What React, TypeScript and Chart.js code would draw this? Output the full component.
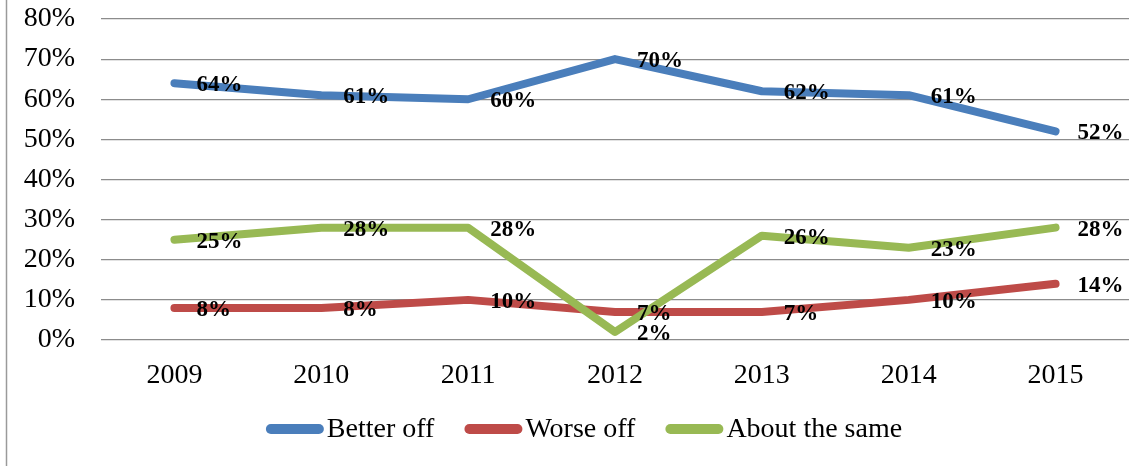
import React, { useEffect, useRef } from "react";
import { Chart, registerables } from "chart.js";

Chart.register(...registerables);

const years = ["2009", "2010", "2011", "2012", "2013", "2014", "2015"];
const betterOff = [64, 61, 60, 70, 62, 61, 52];
const worseOff = [8, 8, 10, 7, 7, 10, 14];
const aboutSame = [25, 28, 28, 2, 26, 23, 28];
const seriesNames = ["Better off", "Worse off", "About the same"];
const seriesColors = ["#4A7EBB", "#BE4B48", "#98B954"];

const FONT = "'Liberation Serif', 'Times New Roman', serif";

const labelPlugin = {
  id: "valueLabels",
  afterDatasetsDraw(chart: any) {
    const ctx = chart.ctx;
    ctx.save();
    ctx.font = `bold 23px ${FONT}`;
    ctx.fillStyle = "#000";
    ctx.textAlign = "left";
    ctx.textBaseline = "middle";
    chart.data.datasets.forEach((ds: any, i: number) => {
      const meta = chart.getDatasetMeta(i);
      meta.data.forEach((el: any, j: number) => {
        ctx.fillText(`${ds.data[j]}%`, el.x + 22, el.y + 2);
      });
    });
    ctx.restore();
  },
};

const legendPlugin = {
  id: "customLegend",
  afterDraw(chart: any) {
    const ctx = chart.ctx;
    ctx.save();
    ctx.font = `28px ${FONT}`;
    const sw = 58;
    const gap = 3;
    const itemGap = 30;
    const items = chart.data.datasets.map((ds: any) => ({
      label: ds.label,
      color: ds.borderColor,
      w: sw + gap + ctx.measureText(ds.label).width,
    }));
    const total = items.reduce((a: number, b: any) => a + b.w, 0) + itemGap * (items.length - 1);
    let x = 584 - total / 2;
    const y = 429;
    items.forEach((it: any) => {
      ctx.strokeStyle = it.color;
      ctx.lineWidth = 10;
      ctx.lineCap = "round";
      ctx.beginPath();
      ctx.moveTo(x + 5, y);
      ctx.lineTo(x + sw - 5, y);
      ctx.stroke();
      ctx.fillStyle = "#000";
      ctx.textAlign = "left";
      ctx.textBaseline = "middle";
      ctx.fillText(it.label, x + sw + gap, y + 1);
      x += it.w + itemGap;
    });
    ctx.restore();
  },
};

const borderPlugin = {
  id: "leftBorder",
  beforeDraw(chart: any) {
    const ctx = chart.ctx;
    ctx.save();
    ctx.strokeStyle = "#9a9a9a";
    ctx.lineWidth = 1.5;
    ctx.beginPath();
    ctx.moveTo(6.5, 0);
    ctx.lineTo(6.5, chart.height);
    ctx.stroke();
    ctx.restore();
  },
};

export default function App() {
  const canvasRef = useRef<HTMLCanvasElement | null>(null);

  useEffect(() => {
    if (!canvasRef.current) return;
    const values = [betterOff, worseOff, aboutSame];
    const chart = new Chart(canvasRef.current, {
      type: "line",
      data: {
        labels: years,
        datasets: values.map((d, i) => ({
          label: seriesNames[i],
          data: d,
          borderColor: seriesColors[i],
          backgroundColor: seriesColors[i],
          borderWidth: 8,
          borderCapStyle: "round",
          borderJoinStyle: "round",
          pointRadius: 0,
          tension: 0,
          order: i === 2 ? 0 : i + 1,
        })),
      },
      options: {
        animation: false,
        responsive: false,
        maintainAspectRatio: false,
        layout: { padding: { top: 19, left: 0, right: 19, bottom: 0 } },
        plugins: {
          legend: { display: false },
          tooltip: { enabled: false },
        },
        scales: {
          x: {
            offset: true,
            grid: { display: false, drawTicks: false },
            border: { display: false },
            ticks: {
              font: { family: FONT, size: 28 },
              color: "#000",
              padding: 19,
            },
            afterFit: (s: any) => {
              s.height = 126;
              s.paddingLeft = 0;
              s.paddingRight = 0;
            },
          },
          y: {
            min: 0,
            max: 80,
            ticks: {
              stepSize: 10,
              font: { family: FONT, size: 28 },
              color: "#000",
              padding: 26,
              callback: (v: any) => `${v}%`,
            },
            grid: { color: "#8c8c8c", lineWidth: 1.2, drawTicks: false },
            border: { display: false },
            afterFit: (s: any) => {
              s.width = 101;
              s.paddingTop = 0;
              s.paddingBottom = 0;
            },
          },
        },
      },
      plugins: [labelPlugin, legendPlugin, borderPlugin],
    });
    return () => chart.destroy();
  }, []);

  return (
    <div style={{ position: "absolute", left: 0, top: 0, width: 1148, height: 466, background: "#fff" }}>
      <canvas ref={canvasRef} width={1148} height={466} style={{ display: "block" }} />
    </div>
  );
}
